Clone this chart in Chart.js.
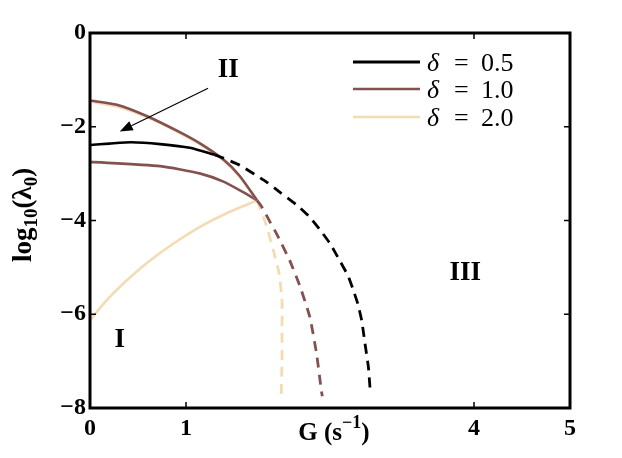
<!DOCTYPE html>
<html>
<head>
<meta charset="utf-8">
<script src="https://cdn.jsdelivr.net/npm/chart.js@4/dist/chart.umd.min.js"></script>
<style>
html,body{margin:0;padding:0;background:#fff;}
canvas{display:block;}
</style>
</head>
<body>
<canvas id="c" width="622" height="458"></canvas>
<script>
// ---- data (G in s^-1, log10(lambda0)) ----
const xTickValues = [0, 1, 4, 5];
const yTickValues = [0, -2, -4, -6, -8];

// delta = 0.5
const gBlackSolid  = [0, 0.2, 0.43, 0.73, 1.04, 1.30];
const lBlackSolid  = [-2.39, -2.36, -2.33, -2.37, -2.45, -2.60];
const gBlackDash   = [1.30, 1.39, 1.56, 1.84, 1.98, 2.16, 2.29, 2.40, 2.50, 2.60, 2.69, 2.74, 2.79, 2.83, 2.86, 2.90, 2.92];
const lBlackDash   = [-2.60, -2.67, -2.82, -3.18, -3.40, -3.68, -3.93, -4.21, -4.49, -4.85, -5.19, -5.47, -5.78, -6.13, -6.56, -7.13, -7.67];

// delta = 1.0
const gBrownUpper  = [0, 0.28, 0.59, 0.94, 1.15, 1.39, 1.56, 1.74];
const lBrownUpper  = [-1.44, -1.53, -1.77, -2.12, -2.36, -2.70, -3.05, -3.57];
const gBrownLower  = [0, 0.73, 1.15, 1.39, 1.60, 1.74];
const lBrownLower  = [-2.75, -2.84, -3.00, -3.17, -3.40, -3.57];
const gBrownDash   = [1.74, 1.79, 1.875, 1.94, 2.08, 2.19, 2.29, 2.36, 2.41, 2.42];
const lBrownDash   = [-3.57, -3.71, -4.03, -4.27, -4.85, -5.42, -6.06, -6.84, -7.63, -7.75];

// delta = 2.0
const gTanUpper    = [0, 0.28, 0.59, 0.94, 1.15, 1.39, 1.56, 1.74];
const lTanUpper    = [-1.46, -1.57, -1.79, -2.14, -2.38, -2.72, -3.07, -3.57];
const gTanLower    = [0, 0.17, 0.35, 0.59, 0.87, 1.15, 1.42, 1.74];
const lTanLower    = [-6.13, -5.71, -5.34, -4.91, -4.49, -4.13, -3.85, -3.57];
const gTanDash     = [1.74, 1.83, 1.91, 1.97, 2.00, 2.00, 2.00, 1.99];
const lTanDash     = [-3.57, -4.06, -4.64, -5.13, -5.71, -6.35, -6.99, -7.84];

const legendLabels = ['0.5', '1.0', '2.0'];
const colBlack = '#000000';
const colBrown = '#845050';
const colTan   = '#f3dcb2';

// annotations (data coordinates)
const regionLabels = [
  {text: 'II',  g: 1.44, l: -0.79},
  {text: 'I',   g: 0.31, l: -6.56},
  {text: 'III', g: 3.91, l: -5.11}
];
const arrowFrom = {g: 1.23, l: -1.18};
const arrowTo   = {g: 0.31, l: -2.10};

function pts(xs, ys){ return xs.map((x,i)=>({x:x, y:ys[i]})); }
function ds(xs, ys, color, dashed){
  return {
    data: pts(xs, ys), showLine: true, pointRadius: 0, borderColor: color,
    borderWidth: dashed ? 2.8 : 2.6, borderDash: dashed ? [10,7] : [],
    tension: dashed ? 0.15 : 0.2, fill: false
  };
}

const SERIF = '"Liberation Serif", "DejaVu Serif", serif';

const boxPlugin = {
  id: 'box',
  afterDraw(chart){
    const ctx = chart.ctx, a = chart.chartArea;
    const xs = chart.scales.x, ys = chart.scales.y;
    ctx.save();
    ctx.strokeStyle = '#000';
    ctx.lineWidth = 1.5;
    const tl = 6;
    xTickValues.forEach(v=>{
      if (v === xs.min || v === xs.max) return;
      const p = xs.getPixelForValue(v);
      ctx.beginPath();
      ctx.moveTo(p, a.bottom); ctx.lineTo(p, a.bottom - tl);
      ctx.moveTo(p, a.top); ctx.lineTo(p, a.top + tl);
      ctx.stroke();
    });
    yTickValues.forEach(v=>{
      if (v === ys.min || v === ys.max) return;
      const p = ys.getPixelForValue(v);
      ctx.beginPath();
      ctx.moveTo(a.left, p); ctx.lineTo(a.left + tl, p);
      ctx.moveTo(a.right, p); ctx.lineTo(a.right - tl, p);
      ctx.stroke();
    });
    ctx.lineWidth = 3;
    ctx.strokeRect(a.left, a.top, a.right - a.left, a.bottom - a.top);

    // x title: G (s^-1)
    ctx.fillStyle = '#000';
    ctx.textBaseline = 'alphabetic';
    const big = 'bold 25px ' + SERIF, small = 'bold 18px ' + SERIF;
    const parts = [
      {t:'G (s', f:big, dy:0},
      {t:'\u22121', f:small, dy:-12},
      {t:')', f:big, dy:0}
    ];
    let w = 0;
    parts.forEach(p=>{ ctx.font = p.f; p.w = ctx.measureText(p.t).width; w += p.w; });
    let x = 334 - w/2;
    parts.forEach(p=>{ ctx.font = p.f; ctx.textAlign='left'; ctx.fillText(p.t, x, 440 + p.dy); x += p.w; });

    // y title: log10(lambda0)
    ctx.save();
    ctx.translate(31, 215);
    ctx.rotate(-Math.PI/2);
    const yb = 'bold 27px ' + SERIF, ysml = 'bold 19px ' + SERIF;
    const yparts = [
      {t:'log', f:yb, dy:0},
      {t:'10', f:ysml, dy:6},
      {t:'(\u03bb', f:yb, dy:0},
      {t:'0', f:ysml, dy:6},
      {t:')', f:yb, dy:0}
    ];
    w = 0;
    yparts.forEach(p=>{ ctx.font = p.f; p.w = ctx.measureText(p.t).width; w += p.w; });
    x = -w/2;
    yparts.forEach(p=>{ ctx.font = p.f; ctx.fillText(p.t, x, p.dy); x += p.w; });
    ctx.restore();
    ctx.restore();
  },
  afterDatasetsDraw(chart){
    const ctx = chart.ctx;
    const xs = chart.scales.x, ys = chart.scales.y;
    ctx.save();
    // region labels
    ctx.fillStyle = '#000';
    ctx.font = 'bold 27px ' + SERIF;
    ctx.textAlign = 'center';
    ctx.textBaseline = 'middle';
    regionLabels.forEach(r=>{
      ctx.fillText(r.text, xs.getPixelForValue(r.g), ys.getPixelForValue(r.l));
    });
    // arrow
    const x0 = xs.getPixelForValue(arrowFrom.g), y0 = ys.getPixelForValue(arrowFrom.l);
    const x1 = xs.getPixelForValue(arrowTo.g),   y1 = ys.getPixelForValue(arrowTo.l);
    const ang = Math.atan2(y1 - y0, x1 - x0);
    const hl = 13, hw = 5;
    const bx = x1 - hl*Math.cos(ang), by = y1 - hl*Math.sin(ang);
    ctx.strokeStyle = '#000'; ctx.lineWidth = 1.2;
    ctx.beginPath(); ctx.moveTo(x0, y0); ctx.lineTo(bx, by); ctx.stroke();
    ctx.beginPath();
    ctx.moveTo(x1, y1);
    ctx.lineTo(bx + hw*Math.sin(ang), by - hw*Math.cos(ang));
    ctx.lineTo(bx - hw*Math.sin(ang), by + hw*Math.cos(ang));
    ctx.closePath(); ctx.fill();

    // legend
    const cols = [colBlack, colBrown, colTan];
    const ly = [62, 89, 117];
    legendLabels.forEach((lab, i)=>{
      ctx.strokeStyle = cols[i]; ctx.lineWidth = i === 0 ? 3 : 2.6;
      ctx.beginPath(); ctx.moveTo(353, ly[i]); ctx.lineTo(420, ly[i]); ctx.stroke();
      ctx.fillStyle = '#000';
      ctx.textAlign = 'left'; ctx.textBaseline = 'alphabetic';
      const base = ly[i] + 9;
      ctx.font = 'italic 26px ' + SERIF;
      ctx.fillText('\u03b4', 427, base);
      ctx.font = '26px ' + SERIF;
      ctx.fillText('=', 454, base);
      ctx.fillText(lab, 481, base);
    });
    ctx.restore();
  }
};

new Chart(document.getElementById('c'), {
  type: 'scatter',
  data: {
    datasets: [
      ds(gBlackSolid, lBlackSolid, colBlack, false),
      ds(gBlackDash,  lBlackDash,  colBlack, true),
      ds(gBrownUpper, lBrownUpper, colBrown, false),
      ds(gTanUpper,   lTanUpper,   colTan,   false),
      ds(gBrownLower, lBrownLower, colBrown, false),
      ds(gBrownDash,  lBrownDash,  colBrown, true),
      ds(gTanLower,   lTanLower,   colTan,   false),
      ds(gTanDash,    lTanDash,    colTan,   true)
    ]
  },
  options: {
    responsive: false,
    animation: false,
    layout: {padding: {top: 33, right: 52, left: 0, bottom: 0}},
    plugins: {legend: {display: false}, tooltip: {enabled: false}},
    scales: {
      x: {
        type: 'linear', min: 0, max: 5,
        grid: {display: false, drawTicks: false},
        border: {display: false},
        afterBuildTicks: s => { s.ticks = xTickValues.map(v => ({value: v})); },
        afterFit: s => { s.height = 50; },
        ticks: {
          padding: 6, color: '#000', maxRotation: 0, autoSkip: false,
          font: {family: SERIF, size: 24, weight: 'bold'},
          callback: v => String(v)
        }
      },
      y: {
        type: 'linear', min: -8, max: 0,
        grid: {display: false, drawTicks: false},
        border: {display: false},
        afterBuildTicks: s => { s.ticks = yTickValues.map(v => ({value: v})); },
        afterFit: s => { s.width = 90; },
        ticks: {
          padding: 4, color: '#000', autoSkip: false,
          font: {family: SERIF, size: 24, weight: 'bold'},
          callback: v => v < 0 ? '\u2212' + Math.abs(v) : String(v)
        }
      }
    }
  },
  plugins: [boxPlugin]
});
</script>
</body>
</html>
